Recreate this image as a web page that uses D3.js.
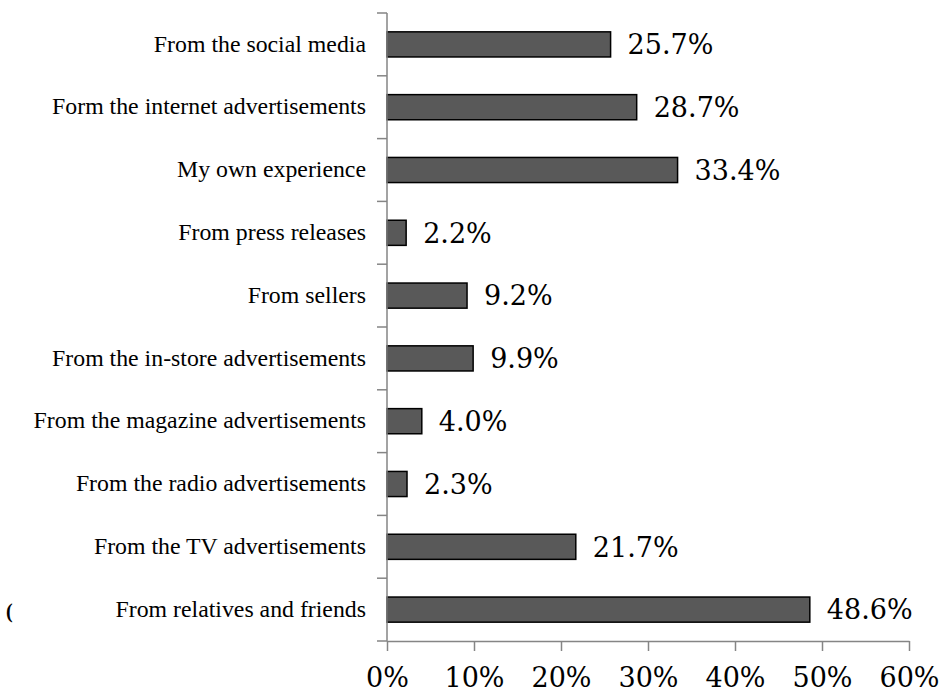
<!DOCTYPE html>
<html>
<head>
<meta charset="utf-8">
<script src="https://cdn.jsdelivr.net/npm/d3@7"></script>
<style>
  body { margin: 0; background: #fff; }
  .cat { font-family: "Liberation Serif", "Times New Roman", serif; font-size: 23.8px; fill: #000; }
  .val { font-family: "DejaVu Serif", serif; font-size: 27px; fill: #000; }
</style>
</head>
<body>
<svg width="939" height="692"></svg>
<script>
const categories = [
    "From the social media",
    "Form the internet advertisements",
    "My own experience",
    "From press releases",
    "From sellers",
    "From the in-store advertisements",
    "From the magazine advertisements",
    "From the radio advertisements",
    "From the TV advertisements",
    "From relatives and friends"
];
const values = [25.7, 28.7, 33.4, 2.2, 9.2, 9.9, 4.0, 2.3, 21.7, 48.6];
const xTicks = [0, 10, 20, 30, 40, 50, 60];

const svg = d3.select("svg");
const plotLeft = 387, plotRight = 909, plotTop = 13, plotBottom = 641;

const x = d3.scaleLinear().domain([0, 60]).range([plotLeft, plotRight]);
const y = d3.scaleBand().domain(categories).range([plotTop, plotBottom]).paddingInner(0.6).paddingOuter(0.3);

// bars
svg.append("g").selectAll("rect")
    .data(values)
    .enter().append("rect")
    .attr("x", x(0))
    .attr("y", (d, i) => y(categories[i]))
    .attr("width", d => x(d) - x(0))
    .attr("height", y.bandwidth())
    .attr("fill", "#595959")
    .attr("stroke", "#000")
    .attr("stroke-width", 1.5);

// value labels
svg.append("g").selectAll("text")
    .data(values)
    .enter().append("text")
    .attr("class", "val")
    .attr("x", d => x(d) + 17)
    .attr("y", (d, i) => y(categories[i]) + y.bandwidth() / 2)
    .attr("dy", "0.36em")
    .text(d => d.toFixed(1) + "%");

// y axis: line with ticks between categories
const axisColor = "#858585";
const yAxis = svg.append("g");
yAxis.append("line")
    .attr("x1", plotLeft).attr("x2", plotLeft)
    .attr("y1", plotTop).attr("y2", plotBottom)
    .attr("stroke", axisColor).attr("stroke-width", 1.5);
const gap = (plotBottom - plotTop) / categories.length;
yAxis.selectAll(".tick")
    .data(d3.range(categories.length + 1))
    .enter().append("line")
    .attr("x1", plotLeft - 10).attr("x2", plotLeft)
    .attr("y1", i => plotTop + i * gap)
    .attr("y2", i => plotTop + i * gap)
    .attr("stroke", axisColor).attr("stroke-width", 1.5);

// category labels
svg.append("g").selectAll("text")
    .data(categories)
    .enter().append("text")
    .attr("class", "cat")
    .attr("x", 366)
    .attr("y", d => y(d) + y.bandwidth() / 2)
    .attr("dy", "0.3em")
    .attr("text-anchor", "end")
    .text(d => d);

// x axis
const xAxis = svg.append("g")
    .attr("transform", `translate(0,${plotBottom})`)
    .call(d3.axisBottom(x).tickValues(xTicks).tickSize(10).tickSizeOuter(0).tickFormat(d => d + "%"));
xAxis.select(".domain").attr("stroke", axisColor).attr("stroke-width", 1.5);
xAxis.selectAll(".tick line").attr("stroke", axisColor).attr("stroke-width", 1.5);
xAxis.selectAll(".tick text")
    .attr("class", "val")
    .attr("fill", "#000")
    .attr("y", 46)
    .attr("dy", "0")
    .style("font-family", "DejaVu Serif, serif")
    .style("font-size", "27px");

// stray mark at the left edge
svg.append("text")
    .attr("class", "cat")
    .attr("x", 6).attr("y", 618)
    .style("font-size", "20px")
    .style("font-weight", "bold")
    .text("(");
</script>
</body>
</html>
